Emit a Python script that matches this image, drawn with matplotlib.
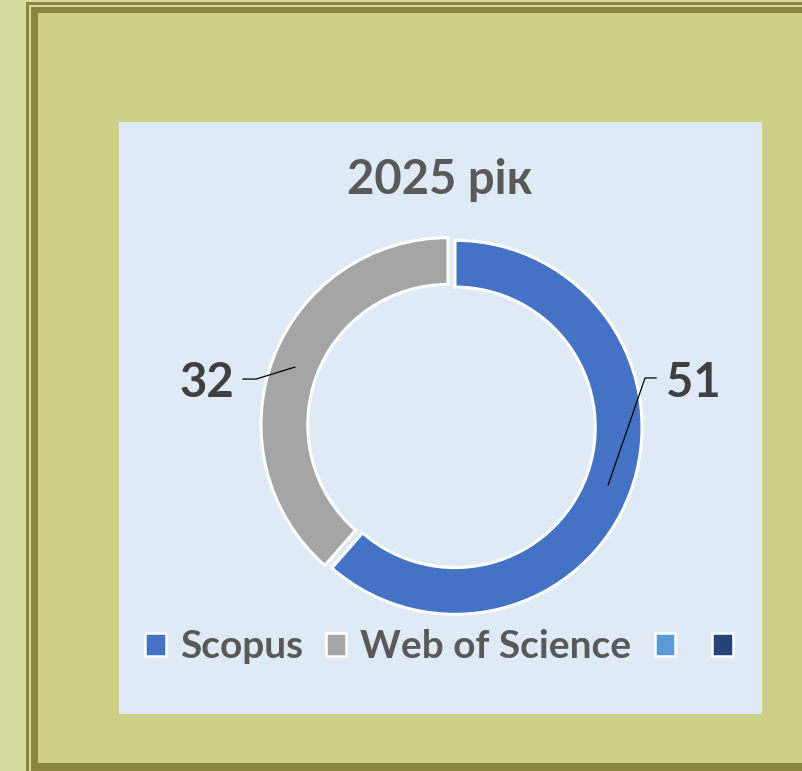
import numpy as np
import matplotlib.pyplot as plt
from matplotlib.patches import Rectangle, Patch

plt.rcParams['font.family'] = ['Lato', 'Open Sans', 'DejaVu Sans']
plt.rcParams['font.weight'] = 'bold'

# Data
title = '2025 рік'
labels = ['Scopus', 'Web of Science', '', '']
values = [51, 32, 0, 0]
colors = ['#4472C4', '#A5A5A5', '#5B9BD5', '#264478']

W, H = 802, 771
fig = plt.figure(figsize=(W / 100, H / 100), dpi=100)
fig.patch.set_facecolor('#D9DA9E')

# background frame drawn in pixel coordinates
bg = fig.add_axes([0, 0, 1, 1])
bg.set_xlim(0, W)
bg.set_ylim(H, 0)
bg.axis('off')
bg.add_patch(Rectangle((26, 2), 800, 800, color='#8B863E', lw=0))
bg.add_patch(Rectangle((29, 4.5), 800, 800, color='#D6D89C', lw=0))
bg.add_patch(Rectangle((31, 6.5), 800, 800, color='#8B863E', lw=0))
bg.add_patch(Rectangle((38, 13), 800, 750, color='#CDCF86', lw=0))
bg.add_patch(Rectangle((119, 122), 643, 592, color='#DEEAF6', lw=0))

# donut
R = 187.0
cx, cy = 451.5, 426.0
span = 2.4 * R
ax = fig.add_axes([(cx - span / 2) / W, (H - cy - span / 2) / H, span / W, span / H])

pie_vals = [v for v in values if v > 0]
pie_cols = [c for v, c in zip(values, colors) if v > 0]
expl = 0.02
wedges, _ = ax.pie(pie_vals, colors=pie_cols, startangle=90, counterclock=False,
                   explode=[expl] * len(pie_vals), radius=1.0,
                   wedgeprops=dict(width=0.25, edgecolor='white', linewidth=2.2))
# pie resets the limits, so set them afterwards
ax.set_xlim(-1.2, 1.2)
ax.set_ylim(-1.2, 1.2)
ax.axis('off')

# data labels with leader lines
label_pos = [(1.291, 0.155), (-1.307, 0.155)]
stub = [(1.094, 1.035, 0.257), (-1.115, -1.045, 0.251)]
for w, v, (lx, ly), (s0, s1, sy) in zip(wedges, pie_vals, label_pos, stub):
    ang = np.deg2rad((w.theta1 + w.theta2) / 2)
    px = (0.875 + expl) * np.cos(ang)
    py = (0.875 + expl) * np.sin(ang)
    ax.plot([s0, s1, px], [sy, sy, py], color='black', lw=0.9, clip_on=False)
    ax.text(lx, ly, str(v), ha='center', va='baseline', fontsize=34,
            fontweight='bold', color='#404040')

fig.text(440 / W, 1 - 194 / H, title, ha='center', va='baseline', fontsize=34,
         fontweight='bold', color='#595959')

handles = [Patch(facecolor=c, edgecolor='white', linewidth=1.8) for c in colors]
leg = fig.legend(handles, labels, loc='center', bbox_to_anchor=(446 / W, 1 - 647 / H),
                 ncol=4, frameon=False, fontsize=28, handlelength=0.52,
                 handleheight=0.52, handletextpad=0.36, columnspacing=0.6,
                 borderpad=0, borderaxespad=0)
for t in leg.get_texts():
    t.set_color('#595959')
    t.set_fontweight('bold')

fig.savefig('out.png', dpi=100, facecolor=fig.get_facecolor())
